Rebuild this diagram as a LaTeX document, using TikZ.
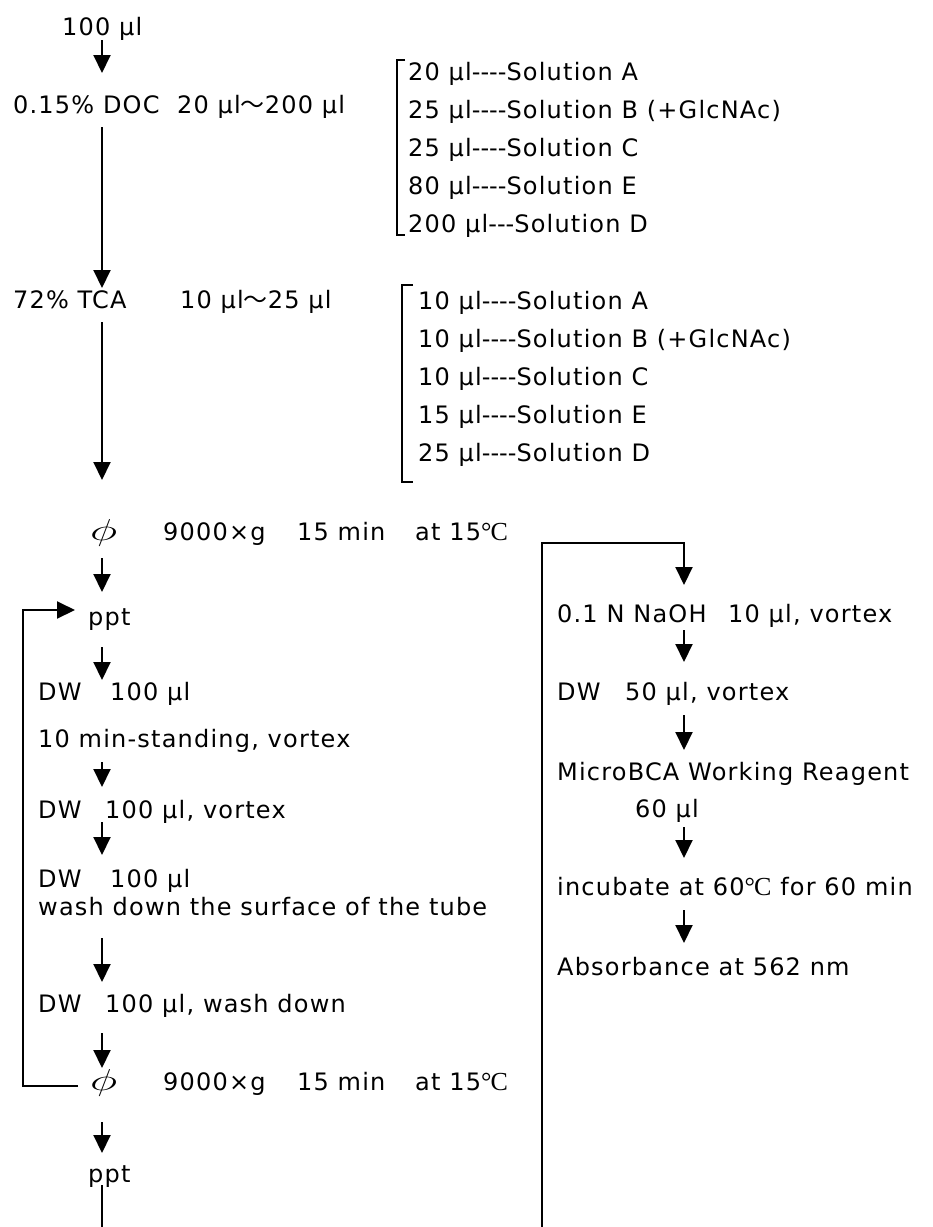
\documentclass[tikz,border=0pt]{standalone}
\usepackage{fontspec}
\setmainfont{DejaVu Sans}[LetterSpace=5.0]
\newfontfamily\cjkfont{Noto Sans CJK JP}
\newfontfamily\serfont{Liberation Serif}
\usetikzlibrary{arrows.meta,calc}
\newcommand\myul{µl}
\newcommand\dsh{\mbox{-}}
\newcommand\wave{{\cjkfont ～}}
\newcommand\degc{{\fontsize{26}{28}\serfont °\kern-1pt C}}
\newcommand\phisym{\resizebox{27pt}{21pt}{$\phi$}}
\newcommand\fsz{\fontsize{24}{28}\selectfont}
\begin{document}
\begin{tikzpicture}[x=1pt,y=-1pt,
  txt/.style={anchor=base west, inner sep=0pt, font=\fsz},
  arr/.style={line width=2pt, -{Triangle[width=17pt,length=18pt]}},
  ln/.style={line width=2pt},
  brk/.style={line width=1.4pt}]
\useasboundingbox[fill=white] (0,0) rectangle (933,1227);
\coordinate (ax) at (102,0);
\coordinate (rx) at (684,0);
\coordinate (lx) at (23,0);
\coordinate (bl) at (102,1227);
\coordinate (br) at (542,1227);
\coordinate (rtop) at (684,543);
% left column
\node[txt] (hund) at (62,35) {100 \myul};
\node[txt] (doc) at (13,113) {0.15\% DOC};
\node[txt] (docv) at (177,113) {20 \myul\wave200 \myul};
\node[txt] (tca) at (13,308) {72\% TCA};
\node[txt] (tcav) at (180,308) {10 \myul\wave25 \myul};
% bracket 1
\node[txt] (b11) at (408,80) {20 \myul\dsh\dsh\dsh\dsh Solution A};
\node[txt] (b12) at (408,118) {25 \myul\dsh\dsh\dsh\dsh Solution B (+GlcNAc)};
\node[txt] (b13) at (408,156) {25 \myul\dsh\dsh\dsh\dsh Solution C};
\node[txt] (b14) at (408,194) {80 \myul\dsh\dsh\dsh\dsh Solution E};
\node[txt] (b15) at (408,232) {200 \myul\dsh\dsh\dsh Solution D};
\draw[brk] (405,60) -- (397,60) -- (397,235) -- (405,235);
% bracket 2
\node[txt] (b21) at (418,309) {10 \myul\dsh\dsh\dsh\dsh Solution A};
\node[txt] (b22) at (418,347) {10 \myul\dsh\dsh\dsh\dsh Solution B (+GlcNAc)};
\node[txt] (b23) at (418,385) {10 \myul\dsh\dsh\dsh\dsh Solution C};
\node[txt] (b24) at (418,423) {15 \myul\dsh\dsh\dsh\dsh Solution E};
\node[txt] (b25) at (418,461) {25 \myul\dsh\dsh\dsh\dsh Solution D};
\draw[brk] (413,285) -- (402,285) -- (402,482) -- (413,482);
% centrifuge 1
\node[txt] (phi1) at (90,540) {\phisym};
\node[txt] (g1) at (163,540) {9000×g};
\node[txt] (m1) at (297,540) {15 min};
\node[txt] (t1) at (415,540) {at 15\degc};
\node[txt] (ppt1) at (88,625) {ppt};
\node[txt] (dw1) at (38,700) {DW};
\node[txt] (dw1v) at (110,700) {100 \myul};
\node[txt] (stand) at (38,747) {10 min-standing, vortex};
\node[txt] (dw2) at (38,818) {DW};
\node[txt] (dw2v) at (105,818) {100 \myul, vortex};
\node[txt] (dw3) at (38,887) {DW};
\node[txt] (dw3v) at (110,887) {100 \myul};
\node[txt] (wash) at (38,915) {wash down the surface of the tube};
\node[txt] (dw4) at (38,1012) {DW};
\node[txt] (dw4v) at (105,1012) {100 \myul, wash down};
% centrifuge 2
\node[txt] (phi2) at (90,1090) {\phisym};
\node[txt] (g2) at (163,1090) {9000×g};
\node[txt] (m2) at (297,1090) {15 min};
\node[txt] (t2) at (415,1090) {at 15\degc};
\node[txt] (ppt2) at (88,1182) {ppt};
% right column
\node[txt] (naoh) at (557,622) {0.1 N NaOH};
\node[txt] (naohv) at (728,622) {10 \myul, vortex};
\node[txt] (dw5) at (557,700) {DW};
\node[txt] (dw5v) at (625,700) {50 \myul, vortex};
\node[txt] (micro) at (557,780) {MicroBCA Working Reagent};
\node[txt] (sixty) at (635,817) {60 \myul};
\node[txt] (incub) at (557,895) {incubate at 60\degc\ for 60 min};
\node[txt] (absb) at (557,975) {Absorbance at 562 nm};
% arrows left
\draw[arr] ([yshift=-5pt]hund.base -| ax) -- ([yshift=40pt]doc.base -| ax);
\draw[arr] ([yshift=-14pt]doc.base -| ax) -- ([yshift=20pt]tca.base -| ax);
\draw[arr] ([yshift=-14pt]tca.base -| ax) -- ([yshift=60pt]phi1.base -| ax);
\draw[arr] ([yshift=-18pt]phi1.base -| ax) -- ([yshift=33pt]ppt1.base -| ax);
\draw[arr] ([yshift=-22pt]ppt1.base -| ax) -- ([yshift=20pt]dw1.base -| ax);
\draw[arr] ([yshift=-15pt]stand.base -| ax) -- ([yshift=31pt]dw2.base -| ax);
\draw[arr] ([yshift=-4pt]dw2.base -| ax) -- ([yshift=32pt]dw3.base -| ax);
\draw[arr] ([yshift=-23pt]wash.base -| ax) -- ([yshift=30pt]dw4.base -| ax);
\draw[arr] ([yshift=-21pt]dw4.base -| ax) -- ([yshift=22pt]phi2.base -| ax);
\draw[arr] ([yshift=-32pt]phi2.base -| ax) -- ([yshift=29pt]ppt2.base -| ax);
\draw[ln] ([yshift=-3pt]ppt2.base -| ax) -- (bl);
% loop back
\coordinate (pin) at ([xshift=-13pt,yshift=15pt]ppt1.base west);
\draw[arr] ([xshift=-12pt,yshift=4pt]phi2.base west) -| (pin -| lx) -- (pin);
% right column arrows
\draw[arr] (br) |- (rtop) -- ([yshift=37pt]naoh.base -| rx);
\draw[arr] ([yshift=-8pt]naoh.base -| rx) -- ([yshift=38pt]dw5.base -| rx);
\draw[arr] ([yshift=-15pt]dw5.base -| rx) -- ([yshift=30pt]micro.base -| rx);
\draw[arr] ([yshift=-10pt]sixty.base -| rx) -- ([yshift=37pt]incub.base -| rx);
\draw[arr] ([yshift=-15pt]incub.base -| rx) -- ([yshift=32pt]absb.base -| rx);
\end{tikzpicture}
\end{document}
